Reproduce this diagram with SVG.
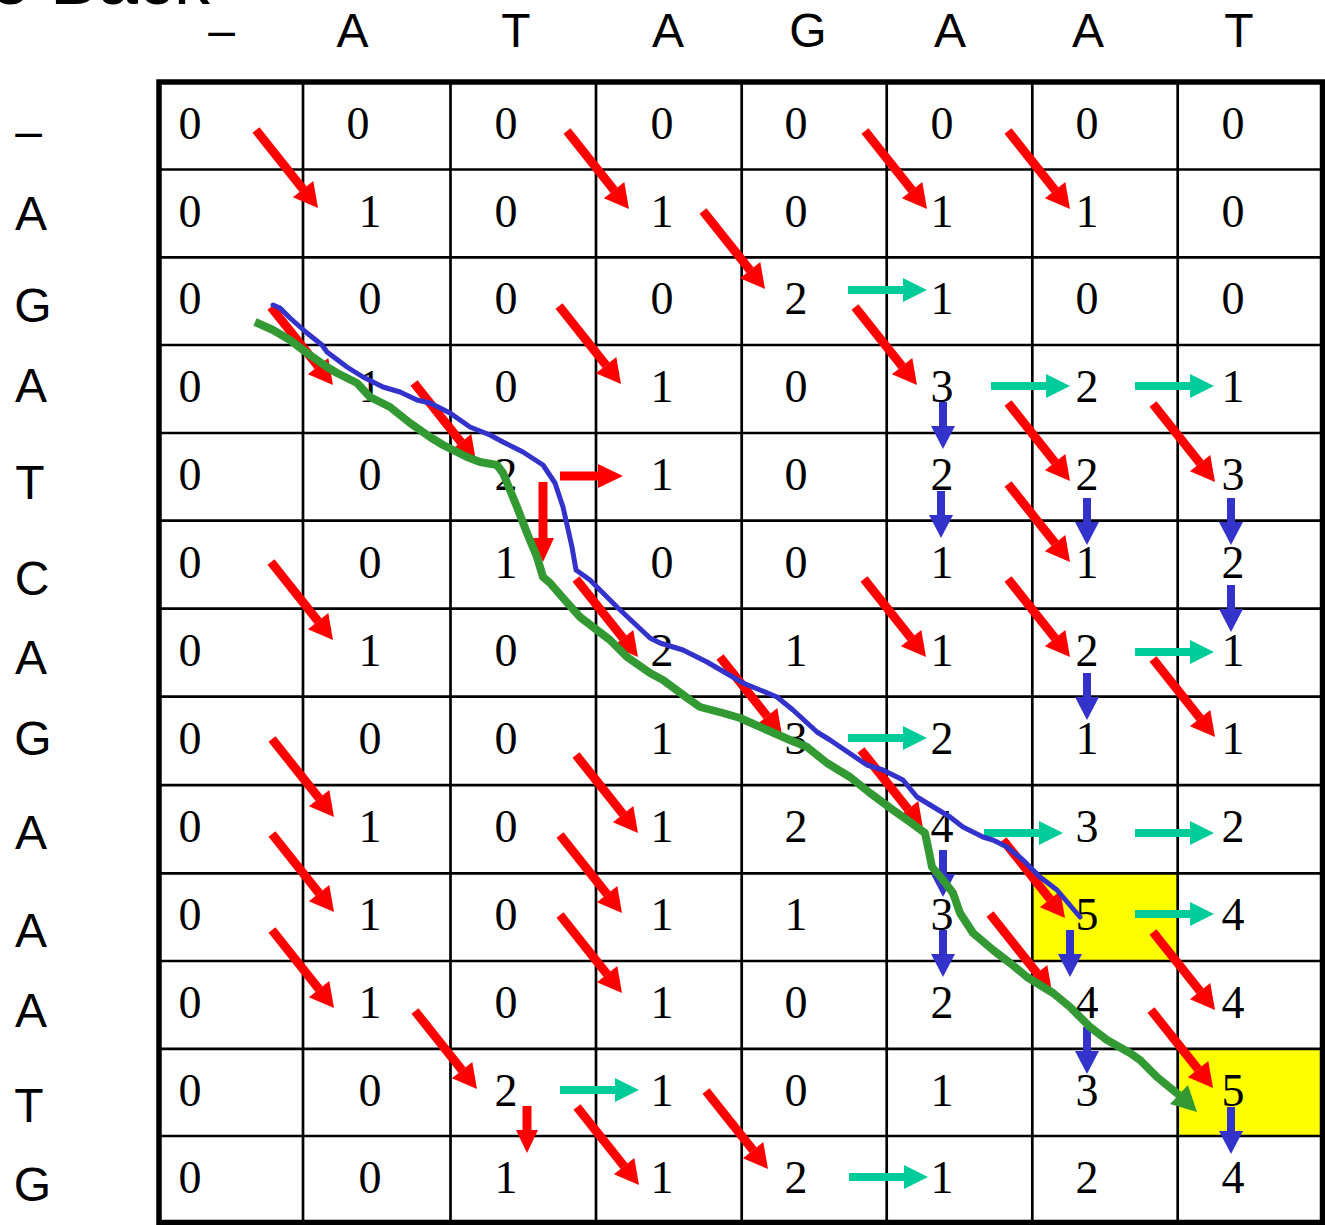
<svg xmlns="http://www.w3.org/2000/svg" width="1325" height="1225" viewBox="0 0 1325 1225">
<style>
.hd{font-family:"Liberation Sans",Arial,sans-serif;font-size:48px;fill:#000;text-anchor:middle}
.num{font-family:"Liberation Serif","Times New Roman",serif;font-size:46px;fill:#000;text-anchor:middle}
.gl{stroke:#000;stroke-width:2.7;fill:none}
.rs{stroke:#FF0000;stroke-width:9;fill:none}
.rf{fill:#FF0000}
.ts{stroke:#00CC99;stroke-width:8;fill:none}
.tf{fill:#00CC99}
.bs{stroke:#3333CC;stroke-width:8;fill:none}
.bf{fill:#3333CC}
</style>
<defs>
<g id="rd"><line class="rs" x1="0" y1="0" x2="47.1" y2="59.2"/><polygon class="rf" points="36.9,67.3 62,78 57.3,51.1"/></g>
<g id="ga"><line class="ts" x1="0" y1="0" x2="57" y2="0"/><polygon class="tf" points="55,-12 79,0 55,12"/></g>
<g id="ba"><line class="bs" x1="0" y1="0" x2="0" y2="25"/><polygon class="bf" points="-12,24 12,24 0,47"/></g>
</defs>
<rect width="1325" height="1225" fill="#fff"/>
<text x="-10" y="4" font-family="Liberation Sans, Arial, sans-serif" font-size="72">e Back</text>
<g id="highlights">
<rect x="1032" y="873" width="146" height="88" fill="#FFFF00"/>
<rect x="1178" y="1049" width="144" height="87" fill="#FFFF00"/>
</g>
<g id="grid">
<path class="gl" d="M303 82V1222M450.5 82V1222M596 82V1222M741.7 82V1222M886.7 82V1222M1032.3 82V1222M1177.7 82V1222"/>
<path class="gl" d="M159 169.5H1322M159 257.3H1322M159 345H1322M159 433H1322M159 520.7H1322M159 608.7H1322M159 696.7H1322M159 785.2H1322M159 873.3H1322M159 961H1322M159 1048.8H1322M159 1136H1322"/>
<rect x="159" y="82" width="1163.5" height="1140.5" fill="none" stroke="#000" stroke-width="5.5"/>
</g>
<g id="col-headers" class="hd">
<text x="221.5" y="47">–</text><text x="352.5" y="47">A</text><text x="516" y="47">T</text><text x="668" y="47">A</text><text x="808" y="47">G</text><text x="950" y="47">A</text><text x="1088" y="47">A</text><text x="1239" y="47">T</text>
</g>
<g id="row-headers" class="hd">
<text x="28.5" y="148">–</text><text x="31" y="230">A</text><text x="33" y="322">G</text><text x="31" y="402">A</text><text x="30" y="499">T</text><text x="32" y="595">C</text><text x="31" y="674">A</text><text x="33" y="755">G</text><text x="31" y="849">A</text><text x="31" y="947">A</text><text x="31" y="1027">A</text><text x="29" y="1122">T</text><text x="32.5" y="1201">G</text>
</g>
<g id="cells" class="num">
<g id="row-0"><text x="190" y="139">0</text><text x="358" y="139">0</text><text x="506" y="139">0</text><text x="662" y="139">0</text><text x="796" y="139">0</text><text x="942" y="139">0</text><text x="1087" y="139">0</text><text x="1233" y="139">0</text></g>
<g id="row-1"><text x="190" y="226.5">0</text><text x="370" y="226.5">1</text><text x="506" y="226.5">0</text><text x="662" y="226.5">1</text><text x="796" y="226.5">0</text><text x="942" y="226.5">1</text><text x="1087" y="226.5">1</text><text x="1233" y="226.5">0</text></g>
<g id="row-2"><text x="190" y="314">0</text><text x="370" y="314">0</text><text x="506" y="314">0</text><text x="662" y="314">0</text><text x="796" y="314">2</text><text x="942" y="314">1</text><text x="1087" y="314">0</text><text x="1233" y="314">0</text></g>
<g id="row-3"><text x="190" y="402">0</text><text x="370" y="402">1</text><text x="506" y="402">0</text><text x="662" y="402">1</text><text x="796" y="402">0</text><text x="942" y="402">3</text><text x="1087" y="402">2</text><text x="1233" y="402">1</text></g>
<g id="row-4"><text x="190" y="490">0</text><text x="370" y="490">0</text><text x="506" y="490">2</text><text x="662" y="490">1</text><text x="796" y="490">0</text><text x="942" y="490">2</text><text x="1087" y="490">2</text><text x="1233" y="490">3</text></g>
<g id="row-5"><text x="190" y="577.5">0</text><text x="370" y="577.5">0</text><text x="506" y="577.5">1</text><text x="662" y="577.5">0</text><text x="796" y="577.5">0</text><text x="942" y="577.5">1</text><text x="1087" y="577.5">1</text><text x="1233" y="577.5">2</text></g>
<g id="row-6"><text x="190" y="665.5">0</text><text x="370" y="665.5">1</text><text x="506" y="665.5">0</text><text x="662" y="665.5">2</text><text x="796" y="665.5">1</text><text x="942" y="665.5">1</text><text x="1087" y="665.5">2</text><text x="1233" y="665.5">1</text></g>
<g id="row-7"><text x="190" y="753.5">0</text><text x="370" y="753.5">0</text><text x="506" y="753.5">0</text><text x="662" y="753.5">1</text><text x="796" y="753.5">3</text><text x="942" y="753.5">2</text><text x="1087" y="753.5">1</text><text x="1233" y="753.5">1</text></g>
<g id="row-8"><text x="190" y="842">0</text><text x="370" y="842">1</text><text x="506" y="842">0</text><text x="662" y="842">1</text><text x="796" y="842">2</text><text x="942" y="842">4</text><text x="1087" y="842">3</text><text x="1233" y="842">2</text></g>
<g id="row-9"><text x="190" y="930">0</text><text x="370" y="930">1</text><text x="506" y="930">0</text><text x="662" y="930">1</text><text x="796" y="930">1</text><text x="942" y="930">3</text><text x="1087" y="930">5</text><text x="1233" y="930">4</text></g>
<g id="row-10"><text x="190" y="1018">0</text><text x="370" y="1018">1</text><text x="506" y="1018">0</text><text x="662" y="1018">1</text><text x="796" y="1018">0</text><text x="942" y="1018">2</text><text x="1087" y="1018">4</text><text x="1233" y="1018">4</text></g>
<g id="row-11"><text x="190" y="1105.5">0</text><text x="370" y="1105.5">0</text><text x="506" y="1105.5">2</text><text x="662" y="1105.5">1</text><text x="796" y="1105.5">0</text><text x="942" y="1105.5">1</text><text x="1087" y="1105.5">3</text><text x="1233" y="1105.5">5</text></g>
<g id="row-12"><text x="190" y="1193">0</text><text x="370" y="1193">0</text><text x="506" y="1193">1</text><text x="662" y="1193">1</text><text x="796" y="1193">2</text><text x="942" y="1193">1</text><text x="1087" y="1193">2</text><text x="1233" y="1193">4</text></g>
</g>
<g id="connectors">
<use href="#rd" x="256" y="130"/><use href="#rd" x="567" y="131"/><use href="#rd" x="865" y="131"/><use href="#rd" x="1008" y="131"/>
<use href="#rd" x="703" y="211"/>
<use href="#rd" x="271" y="307"/><use href="#rd" x="559" y="306"/><use href="#rd" x="855" y="307"/>
<use href="#rd" x="414" y="383"/><use href="#rd" x="1008" y="403"/><use href="#rd" x="1153" y="404"/>
<use href="#rd" x="1008" y="484"/>
<use href="#rd" x="271" y="562"/><use href="#rd" x="576" y="579"/><use href="#rd" x="864" y="579"/><use href="#rd" x="1008" y="579"/>
<use href="#rd" x="720" y="657"/><use href="#rd" x="1153" y="659"/>
<use href="#rd" x="272" y="739"/><use href="#rd" x="576" y="755"/><use href="#rd" x="861" y="750"/>
<use href="#rd" x="272" y="834"/><use href="#rd" x="560" y="835"/><use href="#rd" x="1003" y="840"/>
<use href="#rd" x="272" y="930"/><use href="#rd" x="560" y="915"/><use href="#rd" x="990" y="914"/><use href="#rd" x="1153" y="932"/>
<use href="#rd" x="415" y="1011"/><use href="#rd" x="1151" y="1010"/>
<use href="#rd" x="577" y="1107"/><use href="#rd" x="706" y="1091"/>
<line class="rs" x1="543" y1="482" x2="543" y2="539" stroke-width="8"/><polygon class="rf" points="532,538 554,538 543,562"/>
<line class="rs" x1="527" y1="1106" x2="527" y2="1131" stroke-width="8"/><polygon class="rf" points="516,1130 538,1130 527,1153"/>
<line class="rs" x1="560" y1="476" x2="599" y2="476" stroke-width="8"/><polygon class="rf" points="598,464 623,476 598,488"/>
<use href="#ga" x="848" y="290"/><use href="#ga" x="991" y="386"/><use href="#ga" x="1135" y="386"/><use href="#ga" x="1135" y="652"/><use href="#ga" x="848" y="738"/><use href="#ga" x="984" y="833"/><use href="#ga" x="1135" y="833"/><use href="#ga" x="1135" y="914"/><use href="#ga" x="560" y="1090"/><use href="#ga" x="849" y="1177"/>
<use href="#ba" x="943" y="402"/><use href="#ba" x="941" y="491"/><use href="#ba" x="1087" y="498"/><use href="#ba" x="1231" y="498"/><use href="#ba" x="1231" y="585"/><use href="#ba" x="1087" y="673"/><use href="#ba" x="943" y="850"/><use href="#ba" x="943" y="930"/><use href="#ba" x="1070" y="930"/><use href="#ba" x="1087" y="1027"/><use href="#ba" x="1231" y="1107"/>
<polyline fill="none" stroke="#3333CC" stroke-width="5" stroke-linejoin="round" stroke-linecap="round" points="273,305 280,308 290,318 307,333 322,345 327,352 347,367 363,377 383,387 400,392 417,400 430,403 450,413 470,427 490,435 503,442 523,452 543,465 555,483 563,507 572,547 576,570 590,580 600,590 617,607 650,638 660,643 683,650 707,662 743,683 777,697 793,710 817,732 830,740 867,765 883,770 903,780 917,797 950,817 963,827 983,837 993,840 1007,847 1023,860 1040,877 1057,890 1080,917"/>
<polyline fill="none" stroke="#339933" stroke-width="8" stroke-linejoin="round" points="255,322 273,330 290,340 307,353 327,367 337,373 357,383 370,397 390,407 410,423 430,437 443,445 467,457 480,462 497,465 503,473 517,507 527,533 537,557 543,577 550,583 563,598 580,617 593,627 610,640 627,657 650,673 663,680 690,700 700,707 723,713 740,718 767,730 790,740 807,747 827,763 850,777 870,793 893,810 910,822 925,833 928,847 932,867 943,880 953,893 960,913 973,933 993,950 1010,963 1027,977 1053,993 1070,1007 1090,1027 1107,1040 1130,1053 1140,1060 1157,1077 1179,1095"/>
<polygon fill="#339933" points="1170,1104 1197,1112 1188,1085"/>
</g>
</svg>
